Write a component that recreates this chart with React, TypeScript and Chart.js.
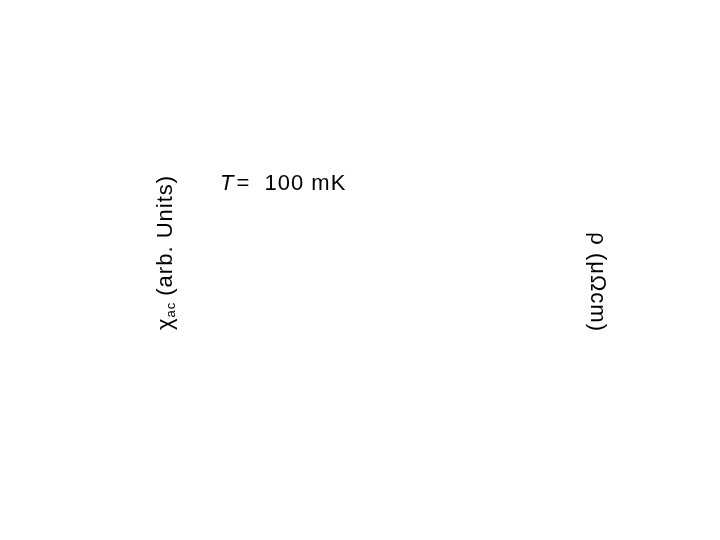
import { useEffect, useRef } from 'react'
import { Chart, registerables } from 'chart.js'

Chart.register(...registerables)

// nothing is plotted in the reference: only the labels survive
const fieldValues: number[] = []
const chiValues: number[] = []
const rhoValues: number[] = []

const chiSymbol = 'χ'
const chiSub = 'ac'
const chiUnit = '(arb. Units)'
const rhoTitle = 'ρ (μΩcm)'
const tempVar = 'T'
const tempText = '=  100 mK'

const FONT = '"Liberation Sans", Arial, sans-serif'

const labelsPlugin = {
  id: 'axisLabels',
  afterDraw(chart: Chart) {
    const { ctx, chartArea } = chart
    ctx.save()
    ctx.fillStyle = '#000'
    ;(ctx as any).letterSpacing = '1px'

    // left title, reads bottom to top
    ctx.save()
    ctx.translate(chartArea.left - 18, chartArea.bottom - 2)
    ctx.rotate(-Math.PI / 2)
    ctx.textAlign = 'left'
    ctx.textBaseline = 'alphabetic'
    ctx.font = `22px ${FONT}`
    ctx.fillText(chiSymbol, 0, 0)
    let w = ctx.measureText(chiSymbol).width
    ctx.font = `13px ${FONT}`
    ctx.fillText(chiSub, w, 3)
    w += ctx.measureText(chiSub).width + 6
    ctx.font = `22px ${FONT}`
    ctx.fillText(chiUnit, w, 0)
    ctx.restore()

    // right title, reads top to bottom
    ctx.save()
    ctx.translate(chartArea.right + 11, chartArea.bottom)
    ctx.rotate(Math.PI / 2)
    ctx.textAlign = 'right'
    ctx.textBaseline = 'alphabetic'
    ctx.font = `22px ${FONT}`
    ctx.fillText(rhoTitle, 0, 0)
    ctx.restore()

    // temperature note
    ctx.textAlign = 'left'
    ctx.textBaseline = 'alphabetic'
    ctx.font = `italic 22px ${FONT}`
    const x0 = chartArea.left + 30
    const y0 = chartArea.top + 150
    ctx.fillText(tempVar, x0, y0)
    const tw = ctx.measureText(tempVar).width
    ctx.font = `22px ${FONT}`
    ctx.fillText(tempText, x0 + tw + 2, y0)

    ctx.restore()
  },
}

export default function App() {
  const canvasRef = useRef<HTMLCanvasElement>(null)
  const chartRef = useRef<Chart | null>(null)

  useEffect(() => {
    if (!canvasRef.current) return
    if (chartRef.current) chartRef.current.destroy()

    chartRef.current = new Chart(canvasRef.current, {
      type: 'scatter',
      data: {
        datasets: [
          {
            label: 'chi_ac',
            data: fieldValues.map((x, i) => ({ x, y: chiValues[i] })),
            yAxisID: 'y',
          },
          {
            label: 'rho',
            data: fieldValues.map((x, i) => ({ x, y: rhoValues[i] })),
            yAxisID: 'y1',
          },
        ],
      },
      options: {
        responsive: true,
        maintainAspectRatio: false,
        animation: false,
        layout: { padding: { left: 190, right: 140, top: 40, bottom: 208 } },
        plugins: {
          legend: { display: false },
          tooltip: { enabled: false },
        },
        scales: {
          x: { type: 'linear', display: false, min: 0, max: 1 },
          y: { display: false, min: 0, max: 1 },
          y1: { display: false, position: 'right', min: 0, max: 1 },
        },
      },
      plugins: [labelsPlugin],
    })

    return () => {
      if (chartRef.current) {
        chartRef.current.destroy()
        chartRef.current = null
      }
    }
  }, [])

  return (
    <div style={{ position: 'fixed', left: 0, top: 0, width: 720, height: 540, background: '#fff' }}>
      <canvas ref={canvasRef}></canvas>
    </div>
  )
}
